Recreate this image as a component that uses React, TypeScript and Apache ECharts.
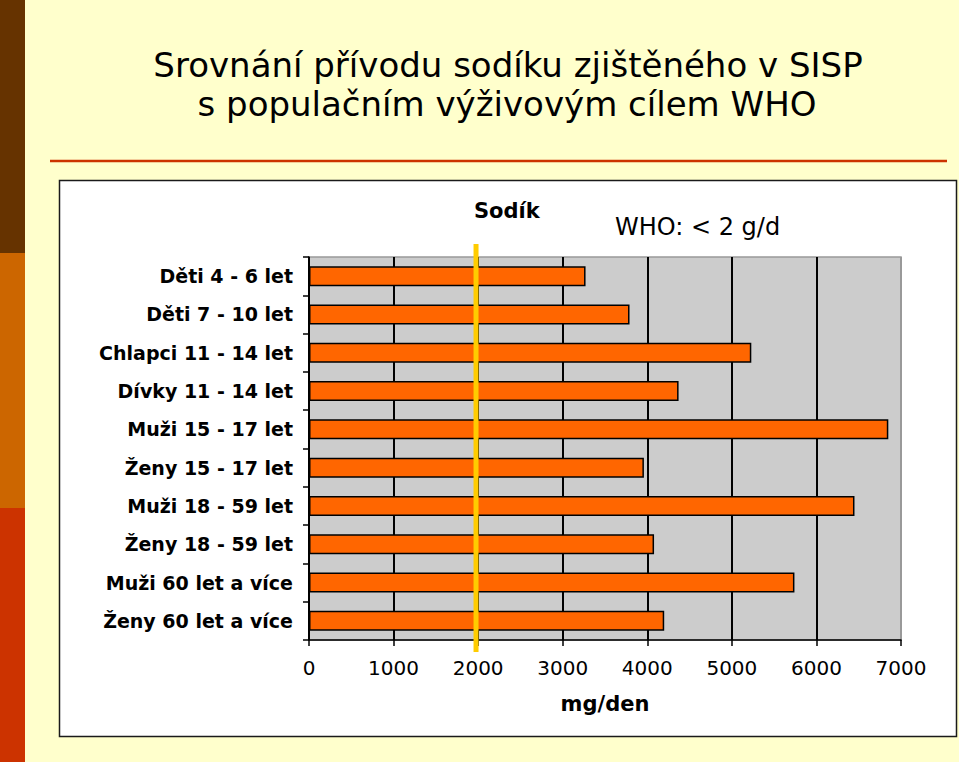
import React, { useEffect, useRef } from "react";
import * as echarts from "echarts";

const categories = [
  "Děti 4 - 6 let",
  "Děti 7 - 10 let",
  "Chlapci 11 - 14 let",
  "Dívky 11 - 14 let",
  "Muži 15 - 17 let",
  "Ženy 15 - 17 let",
  "Muži 18 - 59 let",
  "Ženy 18 - 59 let",
  "Muži 60 let a více",
  "Ženy 60 let a více",
];
const sodiumMg = [3270, 3790, 5230, 4370, 6850, 3960, 6450, 4080, 5740, 4200];
const xMin = 0;
const xMax = 7000;
const xInterval = 1000;
const whoTargetMg = 1975;
const titleLines = ["Srovnání přívodu sodíku zjištěného v SISP", "s populačním výživovým cílem WHO"];
const seriesLabel = "Sodík";
const targetLabel = "WHO: < 2 g/d";
const xAxisName = "mg/den";

export default function App() {
  const ref = useRef<HTMLDivElement>(null);
  useEffect(() => {
    if (!ref.current) return;
    const chart = echarts.init(ref.current, null, { renderer: "svg" });
    const font = "DejaVu Sans, Verdana, sans-serif";
    const staticGraphics: any[] = [
      { type: "rect", z: -10, shape: { x: 0, y: 0, width: 25, height: 253 }, style: { fill: "#663300" } },
      { type: "rect", z: -10, shape: { x: 0, y: 253, width: 25, height: 255 }, style: { fill: "#CC6600" } },
      { type: "rect", z: -10, shape: { x: 0, y: 508, width: 25, height: 254 }, style: { fill: "#CC3300" } },
      {
        type: "line",
        z: -10,
        shape: { x1: 50, y1: 161, x2: 947, y2: 161 },
        style: { stroke: "#CC3300", lineWidth: 2.5 },
      },
      {
        type: "rect",
        z: -10,
        shape: { x: 59.5, y: 180.5, width: 897, height: 556 },
        style: { fill: "#FFFFFF", stroke: "#1a1a1a", lineWidth: 1.5 },
      },
      {
        type: "text",
        x: 508,
        y: 65,
        style: {
          text: titleLines[0],
          font: `34px ${font}`,
          fill: "#000",
          textAlign: "center",
          textVerticalAlign: "middle",
        },
      },
      {
        type: "text",
        x: 507,
        y: 104,
        style: {
          text: titleLines[1],
          font: `34px ${font}`,
          fill: "#000",
          textAlign: "center",
          textVerticalAlign: "middle",
        },
      },
      {
        type: "text",
        x: 474,
        y: 210.5,
        style: {
          text: seriesLabel,
          font: `bold 21px ${font}`,
          fill: "#000",
          textAlign: "left",
          textVerticalAlign: "middle",
        },
      },
      {
        type: "text",
        x: 615,
        y: 226.7,
        style: {
          text: targetLabel,
          font: `24px ${font}`,
          fill: "#000",
          textAlign: "left",
          textVerticalAlign: "middle",
        },
      },
    ];

    const splitColors = Array.from({ length: (xMax - xMin) / xInterval + 1 }, (_, i) =>
      i === (xMax - xMin) / xInterval ? "#999999" : "#000000"
    );

    chart.setOption({
      animation: false,
      backgroundColor: "#FFFFCC",
      graphic: staticGraphics,
      grid: {
        left: 309,
        right: 58,
        top: 257,
        bottom: 122,
        show: true,
        backgroundColor: "#CCCCCC",
        borderColor: "#999999",
        borderWidth: 1.5,
      },
      xAxis: {
        type: "value",
        min: xMin,
        max: xMax,
        interval: xInterval,
        name: xAxisName,
        nameLocation: "middle",
        nameGap: 53,
        nameTextStyle: { fontFamily: font, fontWeight: "bold", fontSize: 21, color: "#000" },
        axisLine: { show: true, lineStyle: { color: "#000", width: 1.5 } },
        axisTick: { show: true, length: 6, lineStyle: { color: "#000", width: 1.5 } },
        axisLabel: {
          fontFamily: font,
          fontSize: 20,
          color: "#000",
          margin: 18,
          formatter: (v: number) => String(v),
        },
        splitLine: { show: true, lineStyle: { color: splitColors, width: 2 } },
      },
      yAxis: {
        type: "category",
        data: categories,
        inverse: true,
        axisLine: { show: true, lineStyle: { color: "#000", width: 1.5 } },
        axisTick: { show: true, length: 6, lineStyle: { color: "#000", width: 1.5 } },
        axisLabel: { fontFamily: font, fontWeight: "bold", fontSize: 19, color: "#000", margin: 16 },
        splitLine: { show: false },
      },
      series: [
        {
          type: "bar",
          name: seriesLabel,
          data: sodiumMg,
          barWidth: 20,
          itemStyle: { color: "#FF6600", borderColor: "#000000", borderWidth: 1.5 },
          z: 3,
        },
      ],
    });

    const px = chart.convertToPixel({ xAxisIndex: 0 }, whoTargetMg) as number;
    chart.setOption({
      graphic: [
        ...staticGraphics,
        {
          type: "line",
          z: 50,
          shape: { x1: px, y1: 244, x2: px, y2: 652 },
          style: { stroke: "#FFCC00", lineWidth: 5 },
        },
      ],
    });

    return () => chart.dispose();
  }, []);
  return (
    <div
      ref={ref}
      style={{ position: "fixed", left: 0, top: 0, width: 959, height: 762 }}
    />
  );
}
